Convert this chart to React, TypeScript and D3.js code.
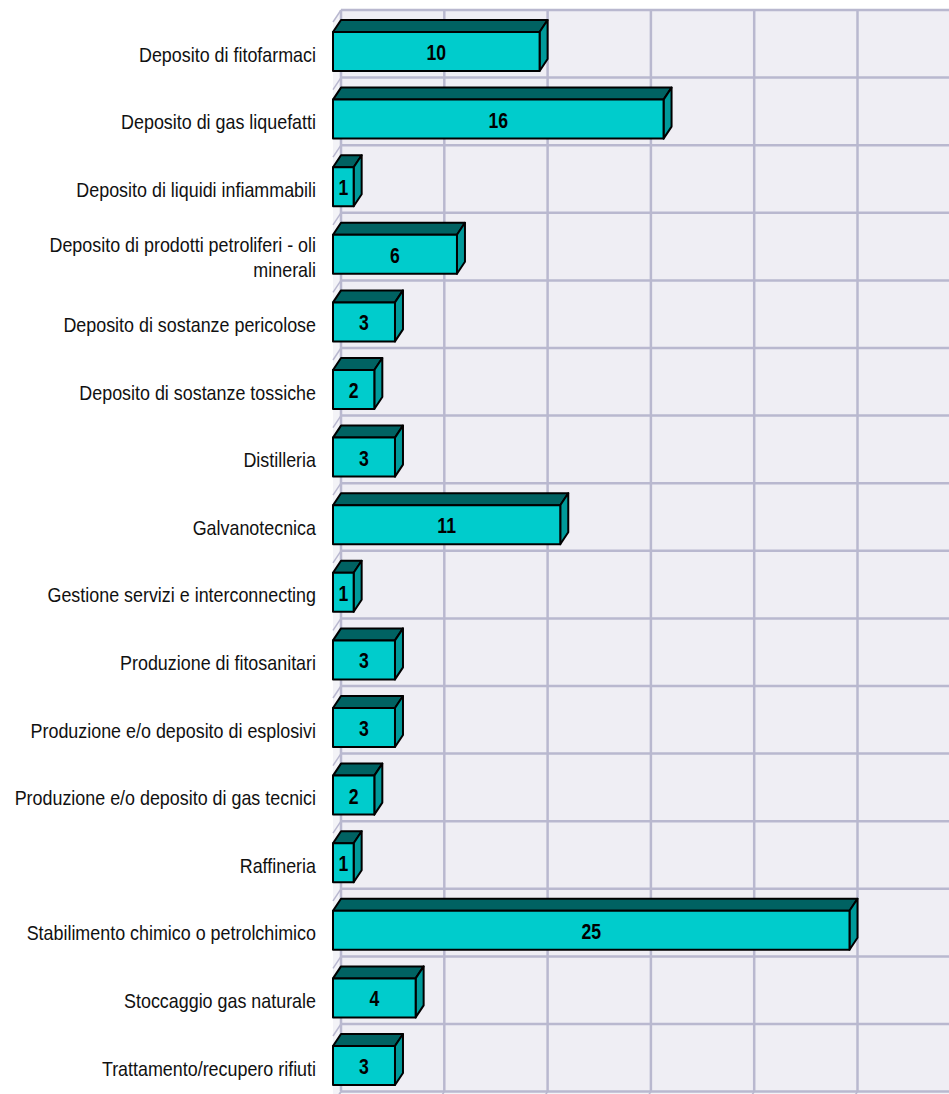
import React from "react";
import * as d3 from "d3";

const categories: string[] = [
  "Deposito di fitofarmaci",
  "Deposito di gas liquefatti",
  "Deposito di liquidi infiammabili",
  "Deposito di prodotti petroliferi - oli minerali",
  "Deposito di sostanze pericolose",
  "Deposito di sostanze tossiche",
  "Distilleria",
  "Galvanotecnica",
  "Gestione servizi e interconnecting",
  "Produzione di fitosanitari",
  "Produzione e/o deposito di esplosivi",
  "Produzione e/o deposito di gas tecnici",
  "Raffineria",
  "Stabilimento chimico o petrolchimico",
  "Stoccaggio gas naturale",
  "Trattamento/recupero rifiuti",
];
const values: number[] = [10, 16, 1, 6, 3, 2, 3, 11, 1, 3, 3, 2, 1, 25, 4, 3];
const gridTicks: number[] = [0, 5, 10, 15, 20, 25, 30];

const W = 949;
const H = 1094;
const X0 = 333; // front origin
const DX = 8;
const DY = 12;
const TOP = 10;
const BAND = 67.6;
const UNIT = 20.66;
const LABEL_FONT = 20;
const LABEL_SX = 0.895;

function wrap(text: string, maxW: number): string[] {
  let ctx: CanvasRenderingContext2D | null = null;
  try {
    ctx = document.createElement("canvas").getContext("2d");
  } catch (e) {
    ctx = null;
  }
  const measure = (s: string) => {
    if (!ctx) return s.length * LABEL_FONT * 0.48;
    ctx.font = `${LABEL_FONT}px "Liberation Sans", Arial, sans-serif`;
    return ctx.measureText(s).width;
  };
  const words = text.split(" ");
  const lines: string[] = [];
  let cur = "";
  for (const w of words) {
    const t = cur ? cur + " " + w : w;
    if (measure(t) * LABEL_SX > maxW && cur) {
      lines.push(cur);
      cur = w;
    } else cur = t;
  }
  if (cur) lines.push(cur);
  return lines;
}

export default function App() {
  const x = d3.scaleLinear().domain([0, 30]).range([0, 30 * UNIT]);
  const y = d3
    .scaleBand<string>()
    .domain(categories)
    .range([TOP, TOP + categories.length * BAND])
    .padding(0);
  const bottom = TOP + categories.length * BAND;
  const gridColor = "#B9B8CF";

  return (
    <svg
      width={W}
      height={H}
      style={{ position: "absolute", left: 0, top: 0, background: "#fff" }}
      fontFamily='"Liberation Sans", Arial, sans-serif'
    >
      {/* back wall */}
      <rect x={X0 + DX} y={TOP} width={W} height={bottom - TOP} fill="#EFEEF4" />
      {/* left wall */}
      <polygon
        points={`${X0 + DX},${TOP} ${X0 + DX},${bottom} ${X0},${bottom + DY} ${X0},${TOP + DY}`}
        fill="#F3F3F7"
      />
      {/* floor */}
      <polygon
        points={`${X0 + DX},${bottom} ${W + 20},${bottom} ${W + 20},${bottom + DY} ${X0},${bottom + DY}`}
        fill="#F3F3F7"
      />
      {/* horizontal grid (back wall + left wall) */}
      {d3.range(categories.length + 1).map((i) => {
        const yy = TOP + i * BAND;
        return (
          <g key={"h" + i}>
            <line x1={X0 + DX} x2={W + 20} y1={yy} y2={yy} stroke={gridColor} strokeWidth={2.5} />
            <line x1={X0 + DX} x2={X0} y1={yy} y2={yy + DY} stroke={gridColor} strokeWidth={1.5} />
          </g>
        );
      })}
      {/* vertical grid (back wall + floor) */}
      {gridTicks.map((t) => {
        const xx = X0 + DX + x(t);
        return (
          <g key={"v" + t}>
            <line x1={xx} x2={xx} y1={TOP} y2={bottom} stroke={gridColor} strokeWidth={2.5} />
            <line x1={xx} x2={xx - DX} y1={bottom} y2={bottom + DY} stroke={gridColor} strokeWidth={1.5} />
          </g>
        );
      })}
      {/* bars */}
      {categories.map((c, i) => {
        const y0 = y(c) as number;
        const v = values[i];
        const w = x(v);
        const ft = y0 + 22;
        const fh = 39;
        const fx = X0;
        const fc = ft + fh / 2;
        return (
          <g key={"b" + i} stroke="#000" strokeWidth={2} strokeLinejoin="round">
            <polygon
              points={`${fx},${ft} ${fx + DX},${ft - DY} ${fx + DX + w},${ft - DY} ${fx + w},${ft}`}
              fill="#006262"
            />
            <polygon
              points={`${fx + w},${ft} ${fx + w + DX},${ft - DY} ${fx + w + DX},${ft + fh - DY} ${fx + w},${ft + fh}`}
              fill="#009A9A"
            />
            <rect x={fx} y={ft} width={w} height={fh} fill="#00CCCC" />
            <text
              transform={`translate(${fx + w / 2},${fc + 8.5}) scale(0.8,1)`}
              textAnchor="middle"
              fontSize={22}
              fontWeight="bold"
              fill="#000"
              stroke="none"
            >
              {v}
            </text>
          </g>
        );
      })}
      {/* category labels */}
      {categories.map((c, i) => {
        const y0 = y(c) as number;
        const fc = y0 + 22 + 19.5;
        const lines = wrap(c, 312);
        const lh = 25.5;
        const center = fc + 3;
        const firstBase = center - ((lines.length - 1) * lh) / 2 + 7;
        return (
          <g key={"l" + i}>
            {lines.map((ln, k) => (
              <text
                key={k}
                transform={`translate(316,${firstBase + k * lh}) scale(${LABEL_SX},1)`}
                textAnchor="end"
                fontSize={LABEL_FONT}
                fill="#111"
              >
                {ln}
              </text>
            ))}
          </g>
        );
      })}
    </svg>
  );
}
